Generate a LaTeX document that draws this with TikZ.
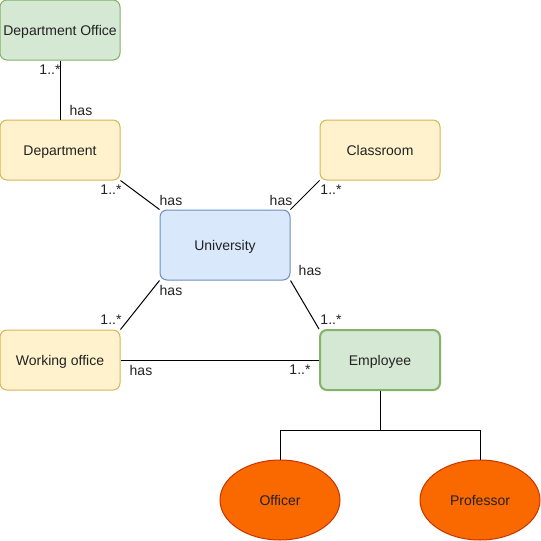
\documentclass[tikz,border=0pt]{standalone}
\usepackage{fontspec}
\setmainfont{Liberation Sans}
\usetikzlibrary{shapes.geometric}
\definecolor{gfill}{HTML}{D5E8D4}
\definecolor{gline}{HTML}{82B366}
\definecolor{yfill}{HTML}{FFF2CC}
\definecolor{yline}{HTML}{D6B656}
\definecolor{bfill}{HTML}{DAE8FC}
\definecolor{bline}{HTML}{6C8EBF}
\definecolor{ofill}{HTML}{FA6800}
\definecolor{oline}{HTML}{C73500}
\definecolor{txt}{HTML}{222222}
\tikzset{
  box/.style={rectangle, rounded corners=7pt, minimum width=120pt, minimum height=60pt, inner sep=0pt, line width=1pt, font=\fontsize{14}{16}\selectfont, text=txt, text height=14pt, text depth=2.6pt},
  greenbox/.style={box, fill=gfill, draw=gline},
  yellowbox/.style={box, fill=yfill, draw=yline},
  bluebox/.style={box, fill=bfill, draw=bline, minimum width=130pt, minimum height=70pt},
  oval/.style={ellipse, minimum width=120pt, minimum height=80pt, inner sep=0pt, fill=ofill, draw=oline, line width=1pt, font=\fontsize{14}{16}\selectfont, text=txt, text height=14pt, text depth=2.6pt},
  lbl/.style={inner sep=0pt, font=\fontsize{14}{16}\selectfont, text=txt},
  conn/.style={line width=1pt, black}
}
\begin{document}
\begin{tikzpicture}[x=1pt, y=-1pt]
\useasboundingbox (0,0) rectangle (541,541);
\node[greenbox] (doff) at (60,30) {Department Office};
\node[yellowbox] (dept) at (60,150) {Department};
\node[yellowbox] (class) at (380,150) {Classroom};
\node[bluebox] (uni) at (225,245) {University};
\node[yellowbox] (work) at (60,360) {Working office};
\node[greenbox, line width=2pt] (emp) at (380,360) {Employee};
\node[oval] (off) at (280,500) {Officer};
\node[oval] (prof) at (480,500) {Professor};
\coordinate (split) at (380,430);

\draw[conn] (doff.south) -- (dept.north);
\draw[conn] (dept.south east) -- (uni.north west);
\draw[conn] (class.south west) -- (uni.north east);
\draw[conn] (work.north east) -- (uni.south west);
\draw[conn] (uni.south east) -- (emp.north west);
\draw[conn] (work.east) -- (emp.west);
\draw[conn] (emp.south) -- (split) -| (off.north);
\draw[conn] (split) -| (prof.north);

\node[lbl] at (50,70) {1..*};
\node[lbl] at (81,110) {has};
\node[lbl] at (111,190) {1..*};
\node[lbl] at (171,200) {has};
\node[lbl] at (281,200) {has};
\node[lbl] at (331,190) {1..*};
\node[lbl] at (310,270) {has};
\node[lbl] at (171,290) {has};
\node[lbl] at (111,320) {1..*};
\node[lbl] at (331,320) {1..*};
\node[lbl] at (141,370) {has};
\node[lbl] at (300,370) {1..*};
\end{tikzpicture}
\end{document}
